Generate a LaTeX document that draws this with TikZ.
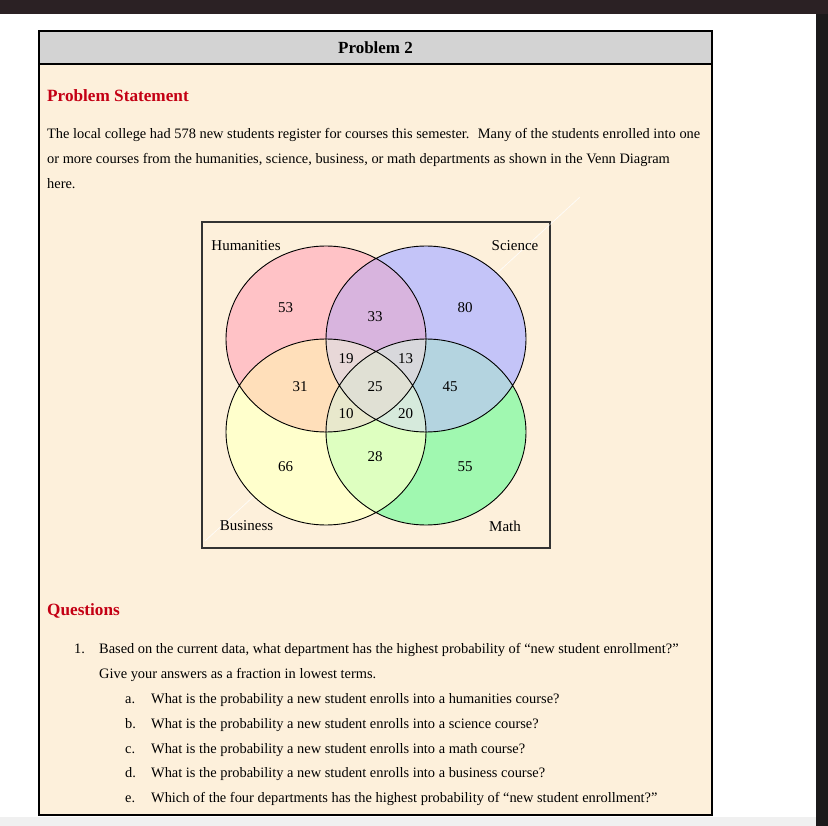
\documentclass[tikz,border=0pt]{standalone}
\usepackage{fontspec}
\setmainfont{Liberation Serif}
\definecolor{topbar}{RGB}{43,33,36}
\definecolor{sidebar}{RGB}{28,26,27}
\definecolor{cream}{RGB}{253,240,219}
\definecolor{hdrgray}{RGB}{211,211,211}
\definecolor{headred}{RGB}{196,0,20}
\definecolor{cH}{RGB}{255,194,198}
\definecolor{cS}{RGB}{196,196,248}
\definecolor{cB}{RGB}{255,255,204}
\definecolor{cM}{RGB}{160,248,176}
\definecolor{cHS}{RGB}{216,180,222}
\definecolor{cHB}{RGB}{255,223,186}
\definecolor{cSM}{RGB}{180,212,224}
\definecolor{cBM}{RGB}{222,255,192}
\definecolor{cHSB}{RGB}{232,216,216}
\definecolor{cHSM}{RGB}{216,216,220}
\definecolor{cHBM}{RGB}{232,232,204}
\definecolor{cSBM}{RGB}{214,234,220}
\definecolor{cAll}{RGB}{224,224,212}
\def\pH{(326,339) ellipse [x radius=100pt,y radius=93pt]}
\def\pS{(426,339) ellipse [x radius=100pt,y radius=93pt]}
\def\pB{(326,432) ellipse [x radius=100pt,y radius=93pt]}
\def\pM{(426,432) ellipse [x radius=100pt,y radius=93pt]}
\tikzset{
  heading/.style={anchor=base west,inner sep=0pt,text=headred,font=\fontsize{17.2}{20}\selectfont\bfseries},
  body/.style={anchor=base west,inner sep=0pt,font=\fontsize{14.4}{17}\selectfont},
  venntxt/.style={inner sep=0pt,font=\fontsize{15}{18}\selectfont},
}
\begin{document}
\begin{tikzpicture}[x=1pt,y=-1pt]
\useasboundingbox (0,0) rectangle (828,826);
\fill[white] (0,0) rectangle (828,826);
% window chrome
\fill[topbar] (0,0) rectangle (828,14);
\fill[sidebar] (816,14) rectangle (828,826);
\fill[black!6] (0,817) rectangle (816,826);
% main box
\fill[cream] (39,64) rectangle (712,815);
\fill[hdrgray] (39,31) rectangle (712,64);
\draw[line width=2pt] (39,64) -- (712,64);
\draw[line width=2pt] (39,31) rectangle (712,815);
\node[anchor=base,inner sep=0pt,font=\fontsize{17}{20}\selectfont\bfseries] (title) at (375.5,54) {Problem 2};
% problem statement
\node[heading] (ps) at (47,102) {Problem Statement};
\node[body] (l1) at (47,138.5) {The local college had 578 new students register for courses this semester.~ Many of the students enrolled into one};
\node[body] (l2) at (47,164) {or more courses from the humanities, science, business, or math departments as shown in the Venn Diagram};
\node[body] (l3) at (47,189) {here.};
% venn box
\draw[white,line width=0.6pt,opacity=0.6] (205,541) -- (580,197);
\draw[black!80,line width=1.3pt] (202,222) rectangle (550,548);
\draw[white,line width=0.6pt,opacity=0.6] (205,541) -- (580,197);
% single regions
\fill[cH] \pH; \fill[cS] \pS; \fill[cB] \pB; \fill[cM] \pM;
% pairs
\begin{scope}\clip \pH; \fill[cHS] \pS; \end{scope}
\begin{scope}\clip \pH; \fill[cHB] \pB; \end{scope}
\begin{scope}\clip \pS; \fill[cSM] \pM; \end{scope}
\begin{scope}\clip \pB; \fill[cBM] \pM; \end{scope}
% triples
\begin{scope}\clip \pH; \clip \pS; \fill[cHSB] \pB; \end{scope}
\begin{scope}\clip \pH; \clip \pS; \fill[cHSM] \pM; \end{scope}
\begin{scope}\clip \pH; \clip \pB; \fill[cHBM] \pM; \end{scope}
\begin{scope}\clip \pS; \clip \pB; \fill[cSBM] \pM; \end{scope}
% all four
\begin{scope}\clip \pH; \clip \pS; \clip \pB; \fill[cAll] \pM; \end{scope}
\draw[black,line width=0.9pt] \pH \pS \pB \pM;
% venn labels
\node[venntxt] (hum) at (246,246) {Humanities};
\node[venntxt] (sci) at (515,246) {Science};
\node[venntxt] (bus) at (246.5,526) {Business};
\node[venntxt] (mat) at (505,526) {Math};
\node[venntxt] (n53) at (285.7,307.7) {53};
\node[venntxt] (n33) at (375,317) {33};
\node[venntxt] (n80) at (465,307.7) {80};
\node[venntxt] (n19) at (346,359) {19};
\node[venntxt] (n13) at (405.7,359) {13};
\node[venntxt] (n31) at (300,386.7) {31};
\node[venntxt] (n25) at (375,386.7) {25};
\node[venntxt] (n45) at (450,386.7) {45};
\node[venntxt] (n10) at (346,414) {10};
\node[venntxt] (n20) at (405.7,414) {20};
\node[venntxt] (n66) at (285.7,466.7) {66};
\node[venntxt] (n28) at (375,456.7) {28};
\node[venntxt] (n55) at (465,466.7) {55};
% questions
\node[heading] (qs) at (47,615) {Questions};
\node[body] (q1n) at (74,653) {1.};
\node[body] (q1) at (99,653) {Based on the current data, what department has the highest probability of “new student enrollment?”};
\node[body] (q1b) at (99,678) {Give your answers as a fraction in lowest terms.};
\node[body] (qan) at (125,703) {a.};
\node[body] (qa) at (151,703) {What is the probability a new student enrolls into a humanities course?};
\node[body] (qbn) at (125,728) {b.};
\node[body] (qb) at (151,728) {What is the probability a new student enrolls into a science course?};
\node[body] (qcn) at (125,753) {c.};
\node[body] (qc) at (151,753) {What is the probability a new student enrolls into a math course?};
\node[body] (qdn) at (125,777.5) {d.};
\node[body] (qd) at (151,777.5) {What is the probability a new student enrolls into a business course?};
\node[body] (qen) at (125,802.5) {e.};
\node[body] (qe) at (151,802.5) {Which of the four departments has the highest probability of “new student enrollment?”};
\end{tikzpicture}
\end{document}
